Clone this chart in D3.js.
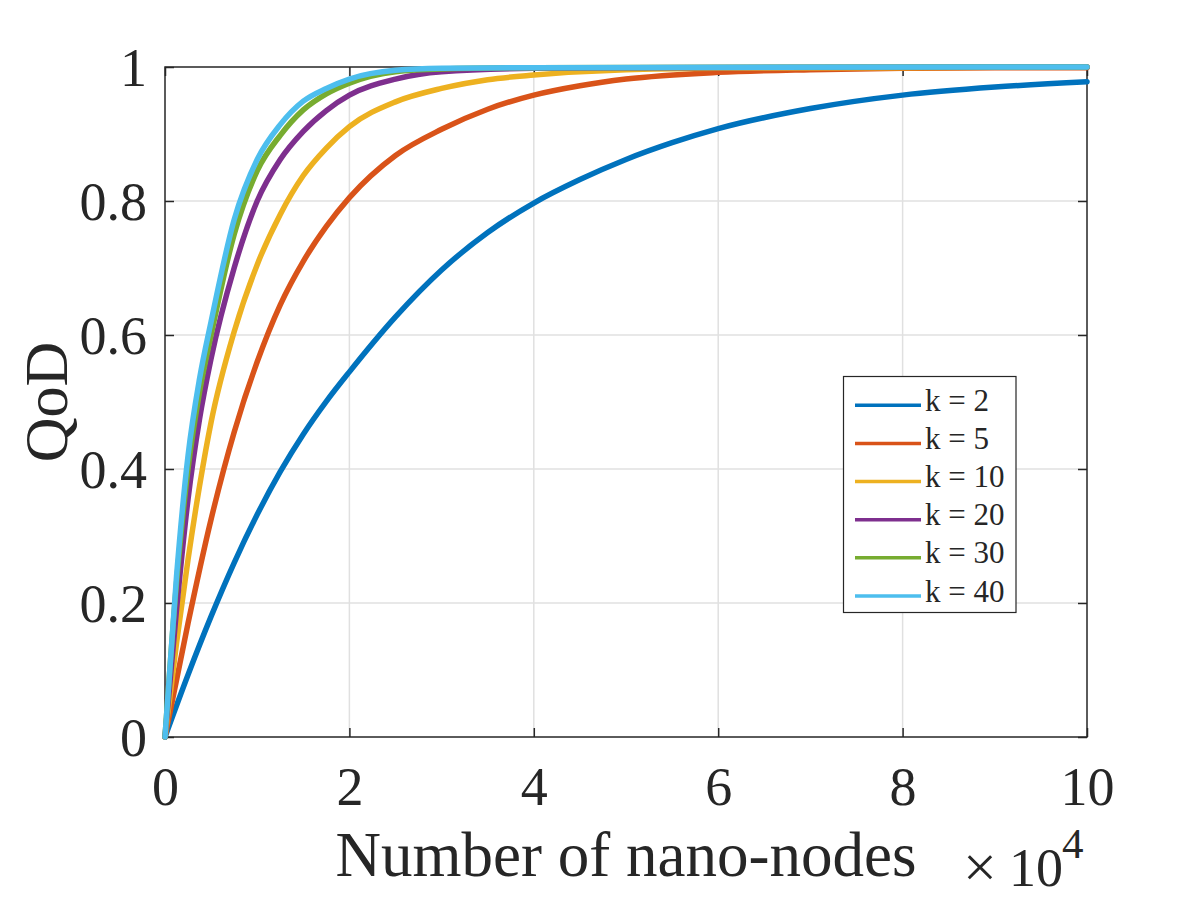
<!DOCTYPE html>
<html>
<head>
<meta charset="utf-8">
<script src="https://cdn.jsdelivr.net/npm/d3@7"></script>
<style>
  html, body { margin: 0; padding: 0; background: #fff; }
  text { font-family: "Liberation Serif", "Times New Roman", serif; fill: #262626; }
</style>
</head>
<body>
<script>
// ---- data (x in units of 10^4 nano-nodes, y = QoD) ----
const seriesK2 = [[0,0],[0.25,0.093],[0.5,0.18],[0.75,0.26],[1.0,0.332],[1.25,0.396],[1.5,0.452],[1.75,0.501],[2.0,0.545],[2.5,0.627],[3.0,0.697],[3.5,0.753],[4.0,0.797],[4.5,0.832],[5,0.862],[5.5,0.887],[6,0.908],[7,0.938],[8,0.958],[9,0.97],[10,0.978]];
const seriesK5 = [[0,0],[0.25,0.17],[0.5,0.325],[0.75,0.455],[1.0,0.56],[1.25,0.645],[1.5,0.71],[1.75,0.762],[2.0,0.805],[2.5,0.868],[3.0,0.907],[3.5,0.937],[4,0.958],[4.5,0.972],[5,0.982],[6,0.992],[7,0.996],[8,0.998],[9,0.999],[10,0.999]];
const seriesK10 = [[0,0],[0.125,0.14],[0.25,0.265],[0.375,0.375],[0.5,0.47],[0.75,0.605],[1.0,0.705],[1.25,0.78],[1.5,0.838],[1.75,0.879],[2.0,0.911],[2.5,0.948],[3.0,0.968],[3.5,0.981],[4,0.988],[5,0.996],[6,0.998],[8,0.999],[10,1.0]];
const seriesK20 = [[0,0],[0.125,0.19],[0.25,0.355],[0.375,0.475],[0.5,0.565],[0.75,0.7],[1.0,0.8],[1.25,0.862],[1.5,0.904],[1.75,0.935],[2.0,0.958],[2.5,0.982],[3,0.993],[4,0.998],[5,0.999],[10,1.0]];
const seriesK30 = [[0,0],[0.125,0.23],[0.25,0.40],[0.375,0.515],[0.5,0.6],[0.75,0.75],[1.0,0.845],[1.25,0.898],[1.5,0.936],[1.75,0.96],[2.0,0.976],[2.5,0.993],[3,0.997],[4,0.999],[10,1.0]];
const seriesK40 = [[0,0],[0.125,0.24],[0.25,0.42],[0.375,0.535],[0.5,0.62],[0.75,0.772],[1.0,0.862],[1.25,0.914],[1.5,0.949],[1.75,0.968],[2.0,0.982],[2.5,0.995],[3,0.998],[4,0.999],[10,1.0]];

const seriesNames = ["k = 2","k = 5","k = 10","k = 20","k = 30","k = 40"];
const seriesColors = ["#0072BD","#D95319","#EDB120","#7E2F8E","#77AC30","#4DBEEE"];
const allSeries = [seriesK2, seriesK5, seriesK10, seriesK20, seriesK30, seriesK40];

const xTicks = [0,2,4,6,8,10];
const xTickLabels = ["0","2","4","6","8","10"];
const yTicks = [0,0.2,0.4,0.6,0.8,1];
const yTickLabels = ["0","0.2","0.4","0.6","0.8","1"];
const xLabel = "Number of nano-nodes";
const yLabel = "QoD";

// ---- layout ----
const L = 165, R = 1087, T = 67, B = 737;
const svg = d3.select("body").append("svg").attr("width",1200).attr("height",900);
const x = d3.scaleLinear().domain([0,10]).range([L,R]);
const y = d3.scaleLinear().domain([0,1]).range([B,T]);

// grid
const grid = svg.append("g").attr("stroke","#e0e0e0").attr("stroke-width",1.5);
grid.selectAll("line.gx").data(xTicks.filter(d=>d>0&&d<10)).join("line")
  .attr("x1",d=>x(d)).attr("x2",d=>x(d)).attr("y1",T).attr("y2",B);
grid.selectAll("line.gy").data(yTicks.filter(d=>d>0&&d<1)).join("line")
  .attr("y1",d=>y(d)).attr("y2",d=>y(d)).attr("x1",L).attr("x2",R);

// axes (ticks inward)
function styleAxis(g){
  g.select(".domain").remove();
  g.selectAll(".tick line").attr("stroke","#262626").attr("stroke-width",1.5);
  g.selectAll("text").attr("font-family","Liberation Serif, Times New Roman, serif").attr("fill","#262626");
}
const ax = svg.append("g").attr("transform",`translate(0,${B})`)
  .call(d3.axisBottom(x).tickValues(xTicks).tickFormat((d,i)=>xTickLabels[i]).tickSize(-9).tickPadding(0));
styleAxis(ax);
ax.selectAll("text").attr("font-size",54).attr("y",68).attr("dy",null);

const ay = svg.append("g").attr("transform",`translate(${L},0)`)
  .call(d3.axisLeft(y).tickValues(yTicks).tickFormat((d,i)=>yTickLabels[i]).tickSize(-9).tickPadding(18));
styleAxis(ay);
ay.selectAll("text").attr("font-size",54).attr("dy","0.34em");

const axT = svg.append("g").attr("transform",`translate(0,${T})`)
  .call(d3.axisTop(x).tickValues(xTicks).tickFormat("").tickSize(-9));
styleAxis(axT);
const ayR = svg.append("g").attr("transform",`translate(${R},0)`)
  .call(d3.axisRight(y).tickValues(yTicks).tickFormat("").tickSize(-9));
styleAxis(ayR);

// box
svg.append("rect").attr("x",L).attr("y",T).attr("width",R-L).attr("height",B-T)
  .attr("fill","none").attr("stroke","#262626").attr("stroke-width",1.5);

// curves
const line = d3.line().x(d=>x(d[0])).y(d=>y(d[1])).curve(d3.curveMonotoneX);
svg.append("g").selectAll("path").data(allSeries).join("path")
  .attr("d",line).attr("fill","none")
  .attr("stroke",(d,i)=>seriesColors[i]).attr("stroke-width",5.5)
  .attr("stroke-linejoin","round").attr("stroke-linecap","round");

// axis labels
svg.append("text").attr("x",(L+R)/2).attr("y",876).attr("text-anchor","middle")
  .attr("font-size",63).text(xLabel);
svg.append("text").attr("transform",`translate(67,${(T+B)/2}) rotate(-90)`).attr("text-anchor","middle")
  .attr("font-size",62).text(yLabel);

// exponent
svg.append("text").attr("x",963).attr("y",887).attr("font-size",60).text("\u00D7");
svg.append("text").attr("x",1009).attr("y",886).attr("font-size",54).text("10");
svg.append("text").attr("x",1062).attr("y",858).attr("font-size",43).text("4");

// legend
const lg = svg.append("g");
lg.append("rect").attr("x",843.5).attr("y",376.5).attr("width",172.5).attr("height",236)
  .attr("fill","#fff").attr("stroke","#262626").attr("stroke-width",1.2);
const rowY = d3.scaleLinear().domain([0,5]).range([405.3,596]);
const rows = lg.selectAll("g.row").data(seriesNames).join("g")
  .attr("transform",(d,i)=>`translate(0,${rowY(i)})`);
rows.append("line").attr("x1",855).attr("x2",921).attr("y1",0).attr("y2",0)
  .attr("stroke",(d,i)=>seriesColors[i]).attr("stroke-width",3.5);
rows.append("text").attr("x",925).attr("y",5.5).attr("font-size",31).text(d=>d);
</script>
</body>
</html>
